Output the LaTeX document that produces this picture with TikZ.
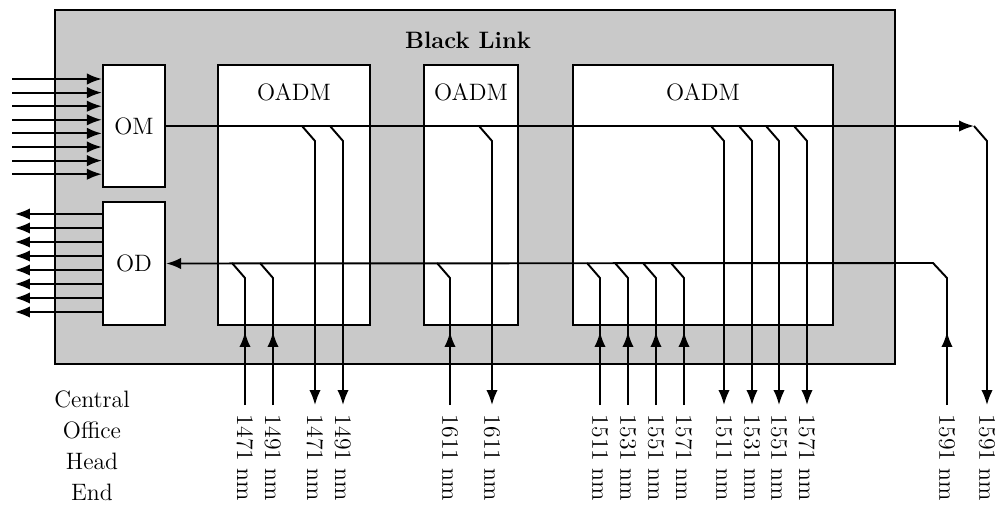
\documentclass[tikz,border=0pt]{standalone}
\usetikzlibrary{arrows.meta,positioning}
\begin{document}
\begin{tikzpicture}[x=0.02cm,y=-0.02cm,line width=1.1pt,
  >={Latex[length=8.5pt,width=6.5pt]},
  font=\fontsize{13.5}{17.6}\selectfont]

% ---------- common style ----------
\tikzstyle{unit}=[draw,fill=white,line width=1.3pt,inner sep=0pt]
\tikzstyle{wl}=[rotate=-90,anchor=west,inner xsep=5pt,inner ysep=0pt]

\useasboundingbox (0,0) rectangle (998,508);

% ================== Black Link frame ==================
\node[draw,fill=gray!42,line width=1.3pt,inner sep=0pt,
      minimum width=16.8cm,minimum height=7.08cm] (link) at (475,187) {};
\node[font=\fontsize{13.5}{16}\selectfont\bfseries] (linklab) at (468,40) {Black Link};

% mux / demux
\node[unit,minimum width=1.24cm,minimum height=2.44cm] (OM) at (134,126) {OM};
\node[unit,minimum width=1.24cm,minimum height=2.46cm] (OD) at (134,263.5) {OD};

% add/drop multiplexers
\node[unit,minimum width=3.04cm,minimum height=5.2cm] (oadm1) at (294,195) {};
\node[unit,minimum width=1.88cm,minimum height=5.2cm] (oadm2) at (471,195) {};
\node[unit,minimum width=5.2cm,minimum height=5.2cm]  (oadm3) at (703,195) {};
\foreach \b in {1,2,3}
  \node (t\b) at ([yshift=-0.56cm]oadm\b.north) {OADM};

% ---------- client side ----------
\foreach \y in {79,92.6,...,175}
  \draw[->] (12,\y) -- (OM.west |- 0,\y);
\foreach \y in {214,228,...,312}
  \draw[->] (OD.west |- 0,\y) -- (15,\y);

\node[align=center] (co) at (92,446) {Central\\Office\\Head\\End};

% ---------- wavelength labels ----------
\foreach \x/\w in {245/1471,273/1491,450/1611,600/1511,628/1531,656/1551,684/1571,947/1591}
  \node[wl] (u\w) at (\x,405) {\w{} nm};
\foreach \x/\w in {315/1471,343/1491,492/1611,724/1511,752/1531,779/1551,807/1571,987/1591}
  \node[wl] (d\w) at (\x,405) {\w{} nm};

% ---------- main line OM -> ring ----------
\coordinate (r1) at (974,126);
\draw[->] (OM.east) -- (r1);
\draw[->] (r1) -- ++(13,15) -- (d1591);

% drops
\foreach \x/\w in {315/1471,343/1491,492/1611,724/1511,752/1531,779/1551,807/1571}
  \draw[->] (\x-13,126) -- (\x,141) -- (d\w);

% ---------- return line -> OD ----------
\draw[->] (u1591) -- (947,332);
\draw[->] (947,342) -- (947,278) -- (933,263) -- (OD.east);

% adds
\foreach \x/\w in {245/1471,273/1491,450/1611,600/1511,628/1531,656/1551,684/1571}{
  \draw[->] (u\w) -- (\x,332);
  \draw (\x,342) -- (\x,278) -- (\x-13,263);
}

\end{tikzpicture}
\end{document}
